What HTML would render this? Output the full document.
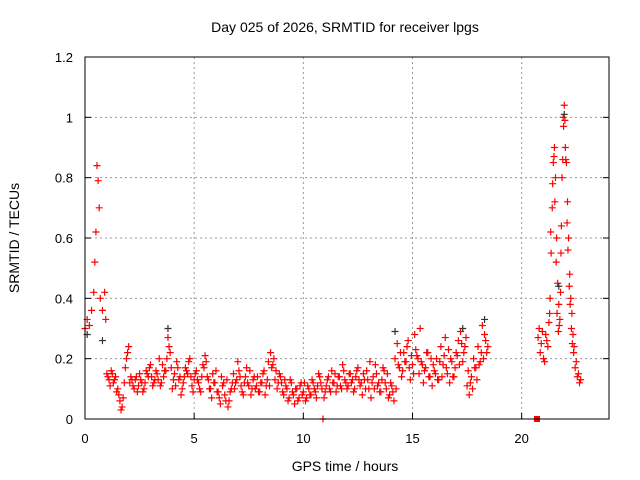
<!DOCTYPE html>
<html><head><meta charset="utf-8"><style>
body{margin:0;background:#fff;}
svg{display:block;font-family:"Liberation Sans",sans-serif;}
</style></head><body>
<svg id="chart" width="640" height="480">
<text x="345" y="32" font-size="14" text-anchor="middle">Day 025 of 2026, SRMTID for receiver lpgs</text>
<text x="345" y="471" font-size="14" text-anchor="middle">GPS time / hours</text>
<text transform="translate(19,238) rotate(-90)" font-size="14" text-anchor="middle">SRMTID / TECUs</text>
<g id="grid"></g><g id="ticks"></g><g id="marks"></g>
<rect x="85" y="57" width="524" height="362" fill="none" stroke="#000"/>
</svg>
<script>
const xTicks=[0,5,10,15,20];
const yTicks=[0,0.2,0.4,0.6,0.8,1,1.2];
const yTickLabels=["0","0.2","0.4","0.6","0.8","1","1.2"];
const times=[0,0.1,0.2,0.3,0.4,0.45,0.5,0.55,0.6,0.65,0.7,0.8,0.9,0.95,1.0,1.1,1.2,1.3,1.4,1.5,1.6,1.7,1.8,1.9,2.0,2.1,2.2,2.3,2.4,2.5,2.6,2.7,2.8,2.9,3.0,3.1,3.2,3.3,3.4,3.5,3.6,3.7,3.8,3.9,4.0,4.1,4.2,4.3,4.4,4.5,4.6,4.7,4.8,4.9,5.0,5.1,5.2,5.3,5.4,5.5,5.6,5.7,5.8,5.9,6.0,6.1,6.2,6.3,6.4,6.5,6.6,6.7,6.8,6.9,7.0,7.1,7.2,7.3,7.4,7.5,7.6,7.7,7.8,7.9,8.0,8.1,8.2,8.3,8.4,8.5,8.6,8.7,8.8,8.9,9.0,9.1,9.2,9.3,9.4,9.5,9.6,9.7,9.8,9.9,10.0,10.1,10.2,10.3,10.4,10.5,10.6,10.7,10.8,10.9,11.0,11.1,11.2,11.3,11.4,11.5,11.6,11.7,11.8,11.9,12.0,12.1,12.2,12.3,12.4,12.5,12.6,12.7,12.8,12.9,13.0,13.1,13.2,13.3,13.4,13.5,13.6,13.7,13.8,13.9,14.0,14.1,14.2,14.3,14.4,14.5,14.6,14.7,14.8,14.9,15.0,15.1,15.2,15.3,15.4,15.5,15.6,15.7,15.8,15.9,16.0,16.1,16.2,16.3,16.4,16.5,16.6,16.7,16.8,16.9,17.0,17.1,17.2,17.3,17.4,17.5,17.6,17.7,17.8,17.9,18.0,18.1,18.2,18.3,18.4,20.8,20.9,21.0,21.1,21.2,21.3,21.35,21.4,21.45,21.5,21.55,21.6,21.65,21.7,21.75,21.8,21.85,21.9,21.95,22.0,22.05,22.1,22.15,22.2,22.25,22.3,22.35,22.4,22.5,22.6,22.7];
const values=[.30,.33,.31,.36,.42,.52,.62,.84,.79,.70,.40,.36,.42,.33,.15,.13,.16,.12,.14,.10,.06,.04,.12,.20,.24,.14,.11,.13,.09,.15,.12,.10,.16,.14,.18,.11,.13,.15,.20,.12,.14,.16,.27,.22,.10,.15,.19,.13,.08,.12,.17,.15,.20,.11,.13,.16,.12,.09,.18,.21,.14,.10,.07,.12,.16,.09,.05,.11,.08,.13,.06,.10,.15,.12,.19,.14,.09,.12,.17,.11,.08,.13,.10,.14,.09,.12,.16,.11,.19,.22,.18,.13,.10,.15,.12,.08,.11,.06,.13,.09,.05,.10,.07,.12,.09,.06,.11,.08,.13,.10,.07,.15,.12,.00,.09,.13,.10,.16,.12,.09,.14,.11,.18,.13,.10,.15,.12,.09,.14,.17,.11,.08,.13,.16,.10,.07,.14,.18,.11,.09,.13,.16,.10,.07,.12,.09,.20,.25,.17,.14,.22,.19,.26,.13,.18,.28,.21,.15,.19,.12,.17,.22,.14,.11,.16,.20,.13,.24,.18,.27,.15,.12,.19,.14,.22,.26,.29,.19,.24,.11,.08,.14,.20,.17,.24,.19,.31,.28,.22,.30,.25,.20,.28,.24,.40,.55,.70,.85,.90,.80,.60,.45,.38,.33,.55,.80,1.0,1.04,.90,.85,.72,.60,.48,.40,.35,.28,.24,.19,.15,.13];
// second, denser series sampled between the first one (1.05 h onward, every 0.1 h)
const times2Start=1.05;
const values2=[.14,.11,.15,.13,.09,.08,.03,.07,.17,.22,.12,.13,.10,.14,.11,.13,.09,.12,.15,.17,.14,.12,.16,.13,.11,.18,.16,.20,.24,.17,.13,.11,.17,.14,.10,.14,.16,.19,.14,.09,.15,.13,.10,.14,.17,.19,.13,.10,.15,.12,.09,.07,.14,.12,.06,.04,.09,.12,.10,.13,.16,.11,.08,.14,.12,.16,.10,.14,.11,.09,.12,.15,.08,.13,.11,.17,.20,.16,.12,.14,.09,.13,.10,.07,.12,.08,.10,.06,.11,.08,.12,.07,.10,.08,.12,.09,.11,.14,.10,.07,.11,.14,.09,.12,.15,.11,.14,.10,.16,.12,.11,.15,.13,.10,.16,.13,.12,.15,.10,.13,.19,.12,.10,.15,.12,.09,.17,.12,.15,.08,.11,.06,.10,.18,.22,.16,.19,.24,.17,.21,.15,.23,.20,.30,.18,.16,.22,.14,.20,.18,.15,.13,.19,.14,.21,.17,.23,.20,.14,.17,.21,.18,.25,.22,.27,.16,.12,.10,.17,.13,.18,.22,.20,.26,.24];
const times3=[20.75,20.85,20.95,21.05,21.15,21.25,21.28,21.33,21.42,21.48,21.52,21.58,21.62,21.68,21.72,21.78,21.82,21.88,21.92,21.98,22.02,22.08,22.12,22.18,22.22,22.28,22.32,22.38,22.45,22.55,22.65];
const values3=[.27,.22,.29,.19,.26,.32,.35,.62,.78,.87,.72,.52,.35,.29,.31,.42,.64,.86,.97,.99,.86,.65,.56,.44,.38,.30,.25,.22,.17,.14,.12];
const darkTimes=[0.1,0.8,3.8,14.2,17.3,18.3,21.7,21.95];
const darkValues=[.28,.26,.30,.29,.30,.33,.44,1.01];
const squareTimes=[20.7];
const squareValues=[0];
const X=t=>85+t*524/24, Y=v=>419-v*362/1.2;
const NS="http://www.w3.org/2000/svg";
function mk(tag,at,parent){const e=document.createElementNS(NS,tag);for(const k in at)e.setAttribute(k,at[k]);document.getElementById(parent).appendChild(e);return e;}
xTicks.forEach(t=>{
 if(t>0){const g=mk('line',{x1:X(t),x2:X(t),y1:57,y2:419,stroke:'#999','stroke-dasharray':'2,3'},'grid');
 
 }
 const l=mk('text',{x:X(t),y:443,'font-size':13,'text-anchor':'middle'},'ticks');l.textContent=t;
 
 
 mk('line',{x1:X(t),x2:X(t),y1:419,y2:413,stroke:'#000'},'ticks');
});
yTicks.forEach((v,i)=>{
 if(v>0&&v<1.2){const g=mk('line',{x1:85,x2:609,y1:Y(v),y2:Y(v),stroke:'#999','stroke-dasharray':'2,3'},'grid');
 
 }
 const l=mk('text',{x:73,y:Y(v)+5,'font-size':13,'text-anchor':'end'},'ticks');l.textContent=yTickLabels[i];
 
 
 mk('line',{x1:85,x2:91,y1:Y(v),y2:Y(v),stroke:'#000'},'ticks');
 mk('line',{x1:609,x2:603,y1:Y(v),y2:Y(v),stroke:'#000'},'ticks');
});
function cross(t,v,c){const x=X(t),y=Y(v);
 const p=mk('path',{d:`M${x-3.5},${y}H${x+3.5}M${x},${y-3.5}V${y+3.5}`,stroke:c,'stroke-width':1.2},'marks');
 
 }
times.forEach((t,i)=>cross(t,values[i],'#f00'));
values2.forEach((v,i)=>cross(times2Start+0.1*i,v,'#f00'));
times3.forEach((t,i)=>cross(t,values3[i],'#f00'));
darkTimes.forEach((t,i)=>cross(t,darkValues[i],'#333'));
squareTimes.forEach((t,i)=>{const r=mk('rect',{x:X(t)-3,y:Y(squareValues[i])-3,width:6,height:6,fill:'#f00'},'marks');
 
 });
</script>
</body></html>
